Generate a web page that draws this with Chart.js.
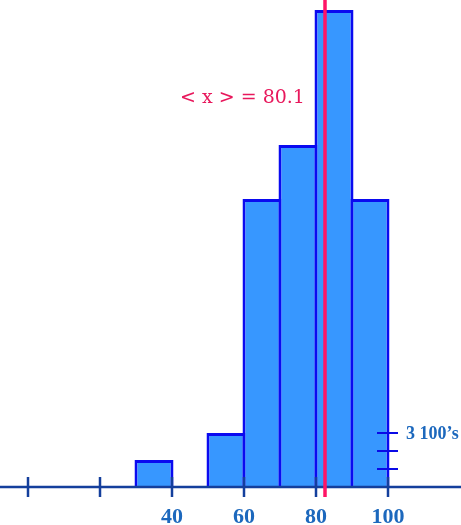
<!DOCTYPE html>
<html>
<head>
<meta charset="utf-8">
<script src="https://cdn.jsdelivr.net/npm/chart.js@4/dist/chart.umd.min.js"></script>
<style>
  html, body { margin: 0; padding: 0; background: #ffffff; }
  canvas { display: block; }
</style>
</head>
<body>
<canvas id="hist" width="461" height="525"></canvas>
<script>
// histogram bins (left edge, width 10) and counts
var binStarts = [30, 50, 60, 70, 80, 90];
var binWidth = 10;
var counts = [150, 300, 1600, 1900, 2650, 1600];

// axis ticks and labels
var axisTicks = [0, 20, 40, 60, 80, 100];
var axisLabels = ['', '', '40', '60', '80', '100'];

// little vertical scale on the right: one mark per 100
var scaleMarks = [100, 200, 300];
var scaleText = '3 100\u2019s';

// mean
var meanValue = 80.1;
var meanLineAt = 82.5;

var barData = [];
for (var i = 0; i < binStarts.length; i++) {
    barData.push({ x: binStarts[i] + binWidth / 2, y: counts[i] });
}

var extras = {
    id: 'extras',
    afterDatasetsDraw: function(chart) {
        var ctx = chart.ctx;
        var xs = chart.scales.x;
        var ys = chart.scales.y;
        var y0 = ys.getPixelForValue(0);
        ctx.save();

        // axis line
        ctx.strokeStyle = '#143f9c';
        ctx.lineWidth = 2.5;
        ctx.beginPath();
        ctx.moveTo(0, y0);
        ctx.lineTo(chart.width, y0);
        ctx.stroke();

        // ticks + labels
        ctx.lineWidth = 2.5;
        ctx.fillStyle = '#1c68bd';
        ctx.font = 'bold 22px "Liberation Serif", serif';
        ctx.textAlign = 'center';
        ctx.textBaseline = 'alphabetic';
        for (var i = 0; i < axisTicks.length; i++) {
            var px = Math.round(xs.getPixelForValue(axisTicks[i]));
            ctx.beginPath();
            ctx.moveTo(px, y0 - 10);
            ctx.lineTo(px, y0 + 10);
            ctx.stroke();
            if (axisLabels[i]) ctx.fillText(axisLabels[i], px, y0 + 36);
        }

        // scale marks on the right
        var sx = xs.getPixelForValue(100);
        ctx.strokeStyle = '#0a0ae6';
        ctx.lineWidth = 2;
        for (var j = 0; j < scaleMarks.length; j++) {
            var py = ys.getPixelForValue(scaleMarks[j]);
            ctx.beginPath();
            ctx.moveTo(sx - 11, py);
            ctx.lineTo(sx + 10, py);
            ctx.stroke();
        }
        var topMark = ys.getPixelForValue(scaleMarks[scaleMarks.length - 1]);
        ctx.font = 'bold 18px "Liberation Serif", serif';
        ctx.textAlign = 'left';
        ctx.textBaseline = 'middle';
        ctx.fillText(scaleText, sx + 18, topMark + 1);

        // mean line
        var mx = xs.getPixelForValue(meanLineAt);
        ctx.strokeStyle = '#ff1466';
        ctx.lineWidth = 3.5;
        ctx.beginPath();
        ctx.moveTo(mx, 0);
        ctx.lineTo(mx, y0 + 10);
        ctx.stroke();

        ctx.fillStyle = '#e8185c';
        ctx.font = '19px "DejaVu Serif", serif';
        ctx.textAlign = 'left';
        ctx.textBaseline = 'alphabetic';
        ctx.fillText('< x > = ' + meanValue.toFixed(1), 180, 103);

        ctx.restore();
    }
};

new Chart(document.getElementById('hist').getContext('2d'), {
    type: 'bar',
    data: {
        datasets: [{
            data: barData,
            backgroundColor: '#3797ff',
            borderColor: '#0a0af0',
            borderWidth: 3,
            barPercentage: 39 / 36,
            categoryPercentage: 1
        }]
    },
    options: {
        responsive: false,
        animation: false,
        layout: { padding: { left: 0, right: 0, top: 0, bottom: 38 } },
        plugins: { legend: { display: false }, tooltip: { enabled: false } },
        scales: {
            x: { type: 'linear', display: false, offset: false, min: -28 / 3.6, max: 433 / 3.6 },
            y: { display: false, min: 0, max: 487 / 0.18 }
        }
    },
    plugins: [extras]
});
</script>
</body>
</html>
